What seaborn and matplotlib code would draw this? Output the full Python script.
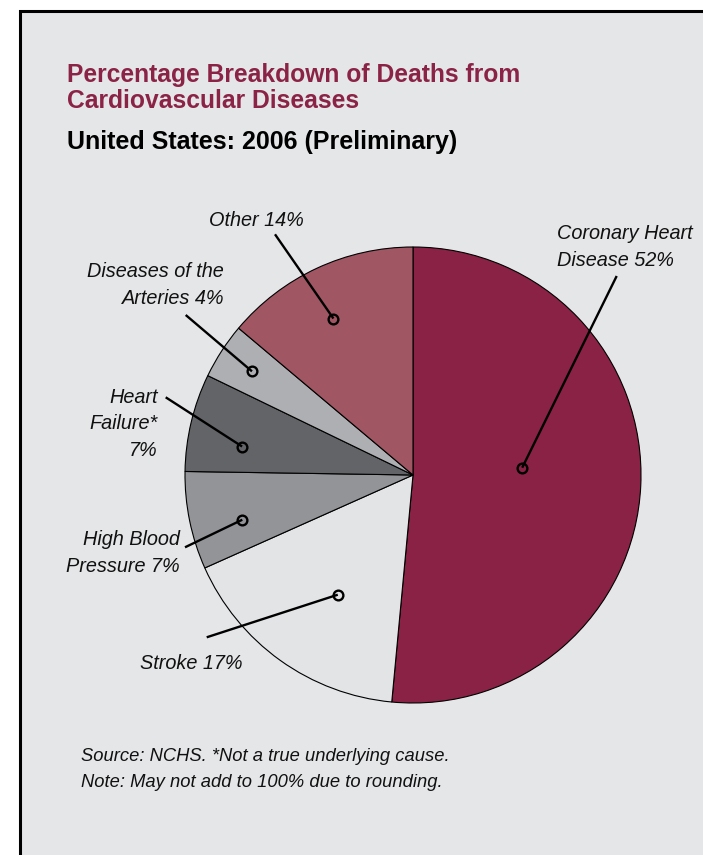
import numpy as np
import matplotlib
matplotlib.use("Agg")
import matplotlib.pyplot as plt
import matplotlib.patches as mpatches
from matplotlib import font_manager
import seaborn as sns

# ------------------------------------------------------------
# Datos del gráfico
# ------------------------------------------------------------
categories = [
    "Coronary Heart Disease",
    "Stroke",
    "High Blood Pressure",
    "Heart Failure*",
    "Diseases of the Arteries",
    "Other",
]
shares = [52, 17, 7, 7, 4, 14]
label_texts = [
    "Coronary Heart\nDisease 52%",
    "Stroke 17%",
    "High Blood\nPressure 7%",
    "Heart\nFailure*\n7%",
    "Diseases of the\nArteries 4%",
    "Other 14%",
]
slice_colors = ["#8a2245", "#e3e4e6", "#939498", "#636467", "#aeafb3", "#a15663"]

title_lines = ["Percentage Breakdown of Deaths from", "Cardiovascular Diseases"]
subtitle = "United States: 2006 (Preliminary)"
notes = ["Source: NCHS. *Not a true underlying cause.",
         "Note: May not add to 100% due to rounding."]

# ------------------------------------------------------------
# Layout (pixels, y hacia abajo)
# ------------------------------------------------------------
W, H = 703, 855
BG = "#e5e6e8"
MAROON = "#8b2346"
CX, CY, R = 413, 475, 228
LINE_PITCH = 26.5

# (x, baseline del primer renglón, alineación)
label_pos = [
    (556.7, 239.3, "left"),
    (191.0, 669.3, "center"),
    (180.0, 545.0, "right"),
    (157.5, 402.7, "right"),
    (224.0, 277.3, "right"),
    (256.7, 225.7, "center"),
]
# inicio de la línea guía
leader_start = [(616.7, 276), (206.7, 637.3), (185, 547.3),
                (165.7, 397.3), (185.7, 315), (275, 234.3)]
# ajuste del punto final: (desplazamiento angular, fracción del radio)
anchor_adj = [(6.5, 0.48), (3.5, 0.62), (3.1, 0.774),
              (3.9, 0.76), (0.2, 0.84), (2.0, 0.77)]

sns.set_theme(style="white")
available = {f.name for f in font_manager.fontManager.ttflist}
if "Liberation Sans Narrow" in available:
    narrow = ["Liberation Sans Narrow", "DejaVu Sans"]
    label_size = 16.5
else:
    narrow = ["Liberation Sans", "DejaVu Sans"]
    label_size = 14.3
regular = ["Liberation Sans", "DejaVu Sans"]
plt.rcParams["font.family"] = regular


def py(y):
    return H - y


fig = plt.figure(figsize=(W / 100, H / 100), dpi=100)
fig.patch.set_facecolor("white")
ax = fig.add_axes([0, 0, 1, 1])

ax.add_patch(mpatches.Rectangle((20, -50), 800, py(11.5) + 50,
                                facecolor=BG, edgecolor="black",
                                linewidth=2.2, zorder=0))

wedges, _ = ax.pie(shares, colors=slice_colors, startangle=90,
                   counterclock=False, center=(CX, py(CY)), radius=R,
                   wedgeprops=dict(edgecolor="black", linewidth=0.8))
ax.set_xlim(0, W)
ax.set_ylim(0, H)
ax.set_aspect("auto")
ax.axis("off")

for w, txt, (tx, ty, ha), (sx, sy), (dth, rf) in zip(
        wedges, label_texts, label_pos, leader_start, anchor_adj):
    mid = np.deg2rad((w.theta1 + w.theta2) / 2 + dth)
    axp = w.center[0] + rf * w.r * np.cos(mid)
    ayp = w.center[1] + rf * w.r * np.sin(mid)
    ax.plot([sx, axp], [py(sy), ayp], color="black", lw=1.7,
            solid_capstyle="butt", zorder=3)
    ax.plot(axp, ayp, marker="o", ms=7, mfc="none", mec="black",
            mew=1.7, zorder=4)
    for i, line in enumerate(txt.split("\n")):
        ax.text(tx, py(ty + i * LINE_PITCH), line, ha=ha, va="baseline",
                fontsize=label_size, style="italic", family=narrow,
                color="#111111", zorder=5)

for i, line in enumerate(title_lines):
    ax.text(67, py(82.3 + i * 26), line, ha="left", va="baseline",
            fontsize=17.7, fontweight="bold", color=MAROON, family=regular)
ax.text(67, py(149), subtitle, ha="left", va="baseline",
        fontsize=18, fontweight="bold", color="black", family=regular)

for i, line in enumerate(notes):
    ax.text(81, py(761 + i * 25.7), line, ha="left", va="baseline",
            fontsize=13.2, style="italic", color="#111111", family=regular)

fig.savefig("out.png", dpi=100, facecolor="white")
